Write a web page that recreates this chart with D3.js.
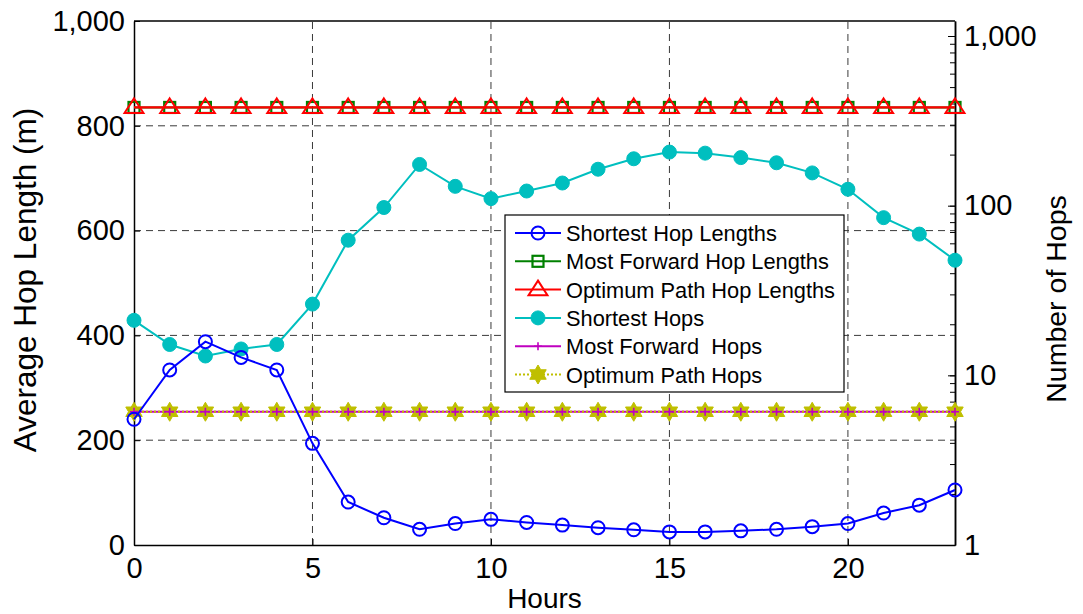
<!DOCTYPE html>
<html>
<head>
<meta charset="utf-8">
<script src="https://cdn.jsdelivr.net/npm/d3@7/dist/d3.min.js"></script>
<style>
  html, body { margin: 0; padding: 0; background: #fff; }
  svg { display: block; font-family: "Liberation Sans", Arial, Helvetica, sans-serif; }
  text { white-space: pre; }
</style>
</head>
<body>
<svg id="chart" width="1083" height="614"></svg>
<script>
// ---------- data ----------
const hours = [0,1,2,3,4,5,6,7,8,9,10,11,12,13,14,15,16,17,18,19,20,21,22,23];
const shortestHopLengths = [240,334,388,358,334,194,82,52,30,41,49,43,38,33,29,25,25,27,30,35,41,61,76,105];
const mostForwardHopLengths = [835,835,835,835,835,835,835,835,835,835,835,835,835,835,835,835,835,835,835,835,835,835,835,835];
const optimumPathHopLengths = [835,835,835,835,835,835,835,835,835,835,835,835,835,835,835,835,835,835,835,835,835,835,835,835];
const shortestHops = [21.1,15.2,13.0,14.3,15.2,26.3,62.6,97.5,175,130,110,122,136,164,189,207,204,192,179,156,125,85,68,47.7];
const mostForwardHops = [6.1,6.1,6.1,6.1,6.1,6.1,6.1,6.1,6.1,6.1,6.1,6.1,6.1,6.1,6.1,6.1,6.1,6.1,6.1,6.1,6.1,6.1,6.1,6.1];
const optimumPathHops = [6.1,6.1,6.1,6.1,6.1,6.1,6.1,6.1,6.1,6.1,6.1,6.1,6.1,6.1,6.1,6.1,6.1,6.1,6.1,6.1,6.1,6.1,6.1,6.1];

const xTicks = [0,5,10,15,20];
const leftTicks = [0,200,400,600,800,1000];
const rightTicks = [1,10,100,1000];
const xLabel = "Hours";
const leftLabel = "Average Hop Length (m)";
const rightLabel = "Number of Hops";
const legendLabels = ["Shortest Hop Lengths","Most Forward Hop Lengths","Optimum Path Hop Lengths","Shortest Hops","Most Forward  Hops","Optimum Path Hops"];

// ---------- layout ----------
const L = 134, R = 955, T = 21, B = 545;
const svg = d3.select("#chart");
const x = d3.scaleLinear().domain([0,23]).range([L,R]);
const yL = d3.scaleLinear().domain([0,1000]).range([B,T]);
const yR = d3.scaleLog().domain([1,1226]).range([B,T]);

const C = { blue:"#0000ff", green:"#008000", red:"#ff0000", cyan:"#00bfbf", magenta:"#bf00bf", yellow:"#bfbf00" };
const tickFont = 29;

// grid
const grid = svg.append("g").attr("stroke","#3a3a3a").attr("stroke-width",1).attr("stroke-dasharray","7,5");
xTicks.filter(t=>t>0).forEach(t => grid.append("line").attr("x1",x(t)).attr("x2",x(t)).attr("y1",B).attr("y2",T));
leftTicks.filter(t=>t>0 && t<1000).forEach(t => grid.append("line").attr("y1",yL(t)).attr("y2",yL(t)).attr("x1",L).attr("x2",R));

// axes via d3 axis generators
const axB = d3.axisBottom(x).tickValues(xTicks).tickSizeInner(-6).tickSizeOuter(0).tickPadding(12).tickFormat(d3.format("d"));
const axL = d3.axisLeft(yL).tickValues(leftTicks).tickSizeInner(-6).tickSizeOuter(0).tickPadding(9).tickFormat(d3.format(","));
const minorR = [];
[1,10,100,1000].forEach(d => { for (let k=1;k<10;k++){ const v=d*k; if (v<=1226) minorR.push(v);} });
const axR = d3.axisRight(yR).tickValues(rightTicks).tickSizeInner(-7).tickSizeOuter(0).tickPadding(9).tickFormat(d3.format(","));
const axRminor = d3.axisRight(yR).tickValues(minorR).tickSizeInner(-5).tickSizeOuter(0).tickFormat("");

function styleAxis(g){
  g.select(".domain").attr("stroke","#000").attr("stroke-width",1.5);
  g.selectAll(".tick line").attr("stroke","#000").attr("stroke-width",1);
  g.selectAll(".tick text").attr("fill","#000").attr("font-size",tickFont).attr("font-family","Liberation Sans, Arial, sans-serif");
}
svg.append("g").attr("transform",`translate(0,${B})`).call(axB).call(styleAxis);
svg.append("g").attr("transform",`translate(${L},0)`).call(axL).call(styleAxis);
svg.append("g").attr("transform",`translate(${R},0)`).call(axRminor).call(styleAxis);
svg.append("g").attr("transform",`translate(${R},0)`).call(axR).call(styleAxis);
// top border
svg.append("line").attr("x1",L).attr("x2",R).attr("y1",T).attr("y2",T).attr("stroke","#000").attr("stroke-width",1.5);

// axis labels
svg.append("text").attr("x",(L+R)/2).attr("y",608).attr("text-anchor","middle").attr("font-size",28).text(xLabel);
svg.append("text").attr("transform",`translate(36,${(T+B)/2-3}) rotate(-90)`).attr("text-anchor","middle").attr("font-size",31.5).text(leftLabel);
svg.append("text").attr("transform",`translate(1066,${(T+B)/2+16}) rotate(-90)`).attr("text-anchor","middle").attr("font-size",28.5).text(rightLabel);

// ---------- markers ----------
function hexagram(r){
  const pts=[]; const ri=r/Math.sqrt(3);
  for(let i=0;i<12;i++){ const a=-Math.PI/2+i*Math.PI/6; const rr=i%2===0?r:ri; pts.push([rr*Math.cos(a), rr*Math.sin(a)]); }
  return "M"+pts.map(p=>p.join(",")).join("L")+"Z";
}
function triangle(r){ return `M0,${-r}L${r*1.05},${r*0.62}L${-r*1.05},${r*0.62}Z`; }
function drawMarker(g, type, cx, cy){
  const m = g.append("g").attr("transform",`translate(${cx},${cy})`);
  if(type==="circle") m.append("circle").attr("r",6.5).attr("fill","none").attr("stroke",C.blue).attr("stroke-width",2);
  if(type==="square") m.append("rect").attr("x",-5.5).attr("y",-5.5).attr("width",11).attr("height",11).attr("fill","none").attr("stroke",C.green).attr("stroke-width",2.2);
  if(type==="triangle") m.append("path").attr("d",triangle(9)).attr("fill","none").attr("stroke",C.red).attr("stroke-width",2);
  if(type==="dot") m.append("circle").attr("r",7).attr("fill",C.cyan).attr("stroke",C.cyan);
  if(type==="plus") m.append("path").attr("d","M-4,0H4M0,-4V4").attr("stroke",C.magenta).attr("stroke-width",1.6);
  if(type==="star") m.append("path").attr("d",hexagram(9.5)).attr("fill",C.yellow).attr("stroke",C.yellow).attr("stroke-width",1);
}

const series = [
  {vals: mostForwardHopLengths, y: yL, color: C.green, w: 2, dash: null, marker:"square"},
  {vals: optimumPathHopLengths, y: yL, color: C.red, w: 2.2, dash: null, marker:"triangle"},
  {vals: optimumPathHops, y: yR, color: C.yellow, w: 2, dash: "2,2", marker:"star"},
  {vals: mostForwardHops, y: yR, color: C.magenta, w: 2, dash: null, marker:"plus"},
  {vals: shortestHops, y: yR, color: C.cyan, w: 2, dash: null, marker:"dot"},
  {vals: shortestHopLengths, y: yL, color: C.blue, w: 2, dash: null, marker:"circle"}
];
const plot = svg.append("g");
series.forEach(s => {
  const line = d3.line().x((d,i)=>x(hours[i])).y(d=>s.y(d));
  plot.append("path").datum(s.vals).attr("d",line).attr("fill","none").attr("stroke",s.color).attr("stroke-width",s.w).attr("stroke-dasharray",s.dash);
  if (s.marker==="plus") {
    plot.append("path").datum(s.vals).attr("d",line).attr("fill","none").attr("stroke",C.yellow).attr("stroke-width",2).attr("stroke-dasharray","2,2");
  }
  s.vals.forEach((v,i)=>drawMarker(plot, s.marker, x(hours[i]), s.y(v)));
});

// ---------- legend ----------
const lg = svg.append("g");
const lx = 505, ly = 215, lw = 339, lh = 177;
lg.append("rect").attr("x",lx).attr("y",ly).attr("width",lw).attr("height",lh).attr("fill","#fff").attr("stroke","#000").attr("stroke-width",1.2);
const legendStyle = [
  {color:C.blue, marker:"circle", dash:null},
  {color:C.green, marker:"square", dash:null},
  {color:C.red, marker:"triangle", dash:null},
  {color:C.cyan, marker:"dot", dash:null},
  {color:C.magenta, marker:"plus", dash:null},
  {color:C.yellow, marker:"star", dash:"2,2"}
];
legendLabels.forEach((lab,i) => {
  const cy = 233 + i*28.3;
  const st = legendStyle[i];
  lg.append("line").attr("x1",515).attr("x2",561).attr("y1",cy).attr("y2",cy).attr("stroke",st.color).attr("stroke-width",2).attr("stroke-dasharray",st.dash);
  drawMarker(lg, st.marker, 538, cy);
  lg.append("text").attr("x",566).attr("y",cy+8).attr("font-size",21.8).attr("fill","#000").attr("xml:space","preserve").text(lab);
});
</script>
</body>
</html>
